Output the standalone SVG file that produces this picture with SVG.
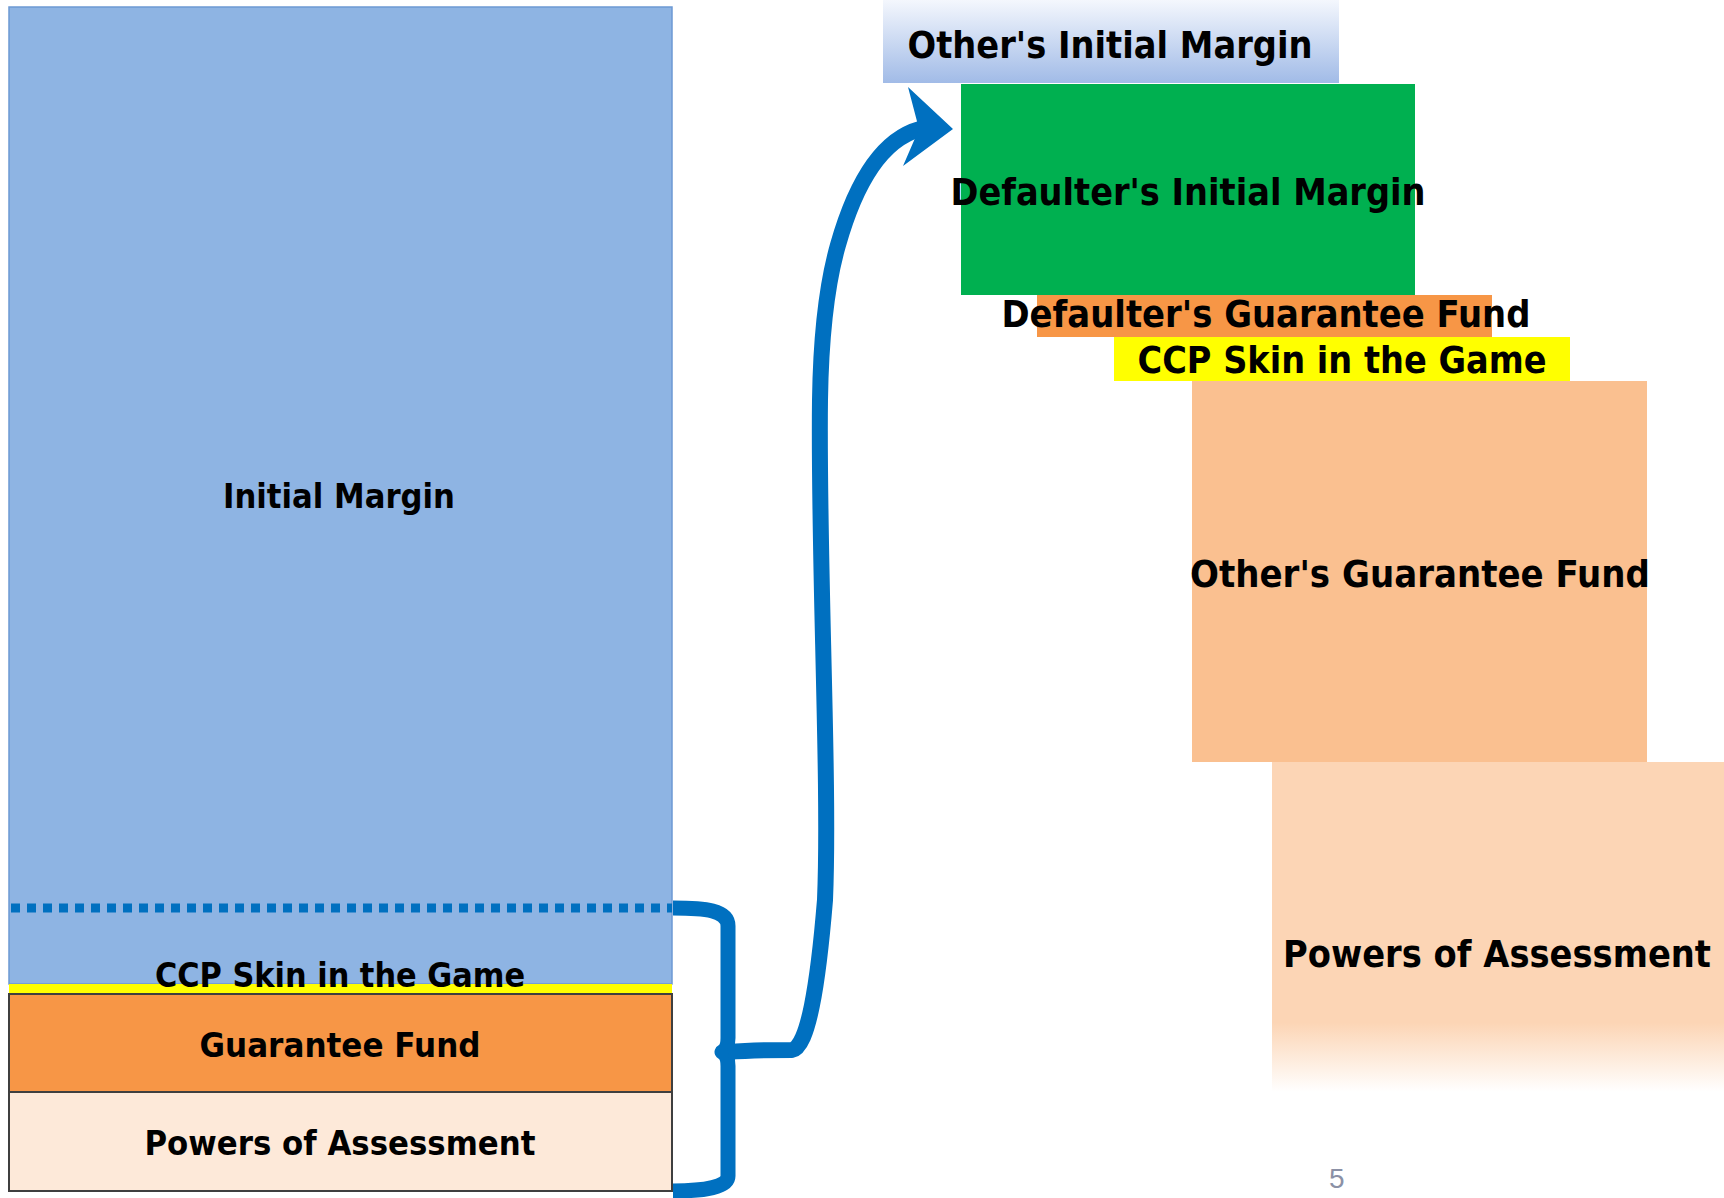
<svg xmlns="http://www.w3.org/2000/svg" width="1724" height="1198" viewBox="0 0 1724 1198">
<defs>
<linearGradient id="gOIM" x1="0" y1="0" x2="0" y2="1">
<stop offset="0" stop-color="#F4F7FD"/>
<stop offset="1" stop-color="#A1BBE7"/>
</linearGradient>
<linearGradient id="gPOA" x1="0" y1="0" x2="0" y2="1">
<stop offset="0" stop-color="#FCD5B5"/>
<stop offset="0.79" stop-color="#FCD5B5"/>
<stop offset="1" stop-color="#FCD5B5" stop-opacity="0"/>
</linearGradient>
</defs>
<style>
.lbl{font-family:"DejaVu Sans","Verdana",sans-serif;font-weight:bold;fill:#000;text-anchor:middle}
.ls{font-size:34px}
.rs{font-size:38px}
.box{stroke:#3F3F3F;stroke-width:2}
.conn{fill:none;stroke:#0070C0;stroke-linecap:butt;stroke-linejoin:round}
.pg{font-family:"Liberation Sans",Arial,sans-serif;font-size:28px;fill:#8B91A6}
</style>
<rect width="1724" height="1198" fill="#FFFFFF"/>

<g id="left-initial-margin">
<rect x="9" y="7" width="663" height="977" fill="#8EB4E3" stroke="#6C99D4" stroke-width="1.5"/>
<text class="lbl ls" x="339" y="508" textLength="232" lengthAdjust="spacingAndGlyphs">Initial Margin</text>
</g>
<g id="left-ccp-skin">
<rect x="9" y="984" width="663" height="10" fill="#FFFF00"/>
<text class="lbl ls" x="340" y="987" textLength="370" lengthAdjust="spacingAndGlyphs">CCP Skin in the Game</text>
</g>
<g id="left-guarantee-fund">
<rect class="box" x="9" y="994" width="663" height="98" fill="#F79646"/>
<text class="lbl ls" x="340" y="1057" textLength="281" lengthAdjust="spacingAndGlyphs">Guarantee Fund</text>
</g>
<g id="left-powers">
<rect class="box" x="9" y="1092" width="663" height="99" fill="#FDE9D9"/>
<text class="lbl ls" x="340" y="1155" textLength="391" lengthAdjust="spacingAndGlyphs">Powers of Assessment</text>
</g>

<g id="others-initial-margin">
<rect x="883" y="0" width="456" height="83" fill="url(#gOIM)"/>
<text class="lbl rs" x="1110" y="58" textLength="405" lengthAdjust="spacingAndGlyphs">Other's Initial Margin</text>
</g>
<g id="defaulters-initial-margin">
<rect x="961" y="84" width="454" height="211" fill="#00B050"/>
<text class="lbl rs" x="1188" y="205" textLength="475" lengthAdjust="spacingAndGlyphs">Defaulter's Initial Margin</text>
</g>
<g id="defaulters-guarantee-fund">
<rect x="1037" y="295" width="455" height="42" fill="#F79646"/>
<text class="lbl rs" x="1266" y="327" textLength="529" lengthAdjust="spacingAndGlyphs">Defaulter's Guarantee Fund</text>
</g>
<g id="ccp-skin-right">
<rect x="1114" y="337" width="456" height="44" fill="#FFFF00"/>
<text class="lbl rs" x="1342" y="373" textLength="409" lengthAdjust="spacingAndGlyphs">CCP Skin in the Game</text>
</g>
<g id="others-guarantee-fund">
<rect x="1192" y="381" width="455" height="381" fill="#FAC090"/>
<text class="lbl rs" x="1420" y="587" textLength="460" lengthAdjust="spacingAndGlyphs">Other's Guarantee Fund</text>
</g>
<g id="powers-right">
<rect x="1272" y="762" width="452" height="330" fill="url(#gPOA)"/>
<text class="lbl rs" x="1497" y="967" textLength="428" lengthAdjust="spacingAndGlyphs">Powers of Assessment</text>
</g>

<g id="connectors">
<line class="conn" x1="11" y1="908" x2="672" y2="908" stroke-width="9" stroke-dasharray="9 7"/>
<path class="conn" stroke-width="15" d="M 673 908 C 705 908, 728 910, 728 926 L 728 1038 C 728 1046, 726 1050, 722 1052 C 726 1054, 728 1058, 728 1066 L 728 1176 C 728 1187, 705 1191, 673 1191"/>
<path class="conn" stroke-width="16" d="M 728 1052 C 755 1050, 775 1050, 792 1050 C 808 1047, 818 985, 825 900 C 830 780, 818 560, 820 400 C 821 330, 828 280, 838 245 C 855 185, 880 140, 920 129"/>
<polygon points="953,129 908,87 919,129 903,166" fill="#0070C0"/>
</g>

<text class="pg" x="1329" y="1188">5</text>
</svg>
